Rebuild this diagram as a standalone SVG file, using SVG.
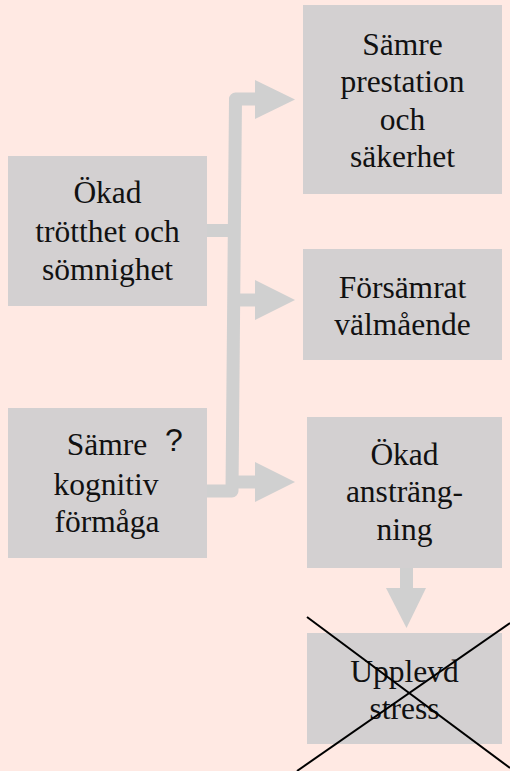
<svg xmlns="http://www.w3.org/2000/svg" width="510" height="771" viewBox="0 0 510 771">
<style>
.bg{fill:#FFE9E3}
.box{fill:#D3D0D1}
.t{font-size:31.5px;fill:#111;text-anchor:middle}
.q{font-size:32px;fill:#111}
.con{fill:none;stroke:#D0D0D0;stroke-width:13;stroke-linejoin:round}
.head{fill:#D0D0D0}
.x{stroke:#000;stroke-width:2}
</style>
<rect class="bg" x="0" y="0" width="510" height="771"/>
<g id="connectors">
<path class="con" d="M207,491 L232,491 L235.5,99 L256,99"/>
<path class="con" d="M207,230.5 L234,230.5"/>
<path class="con" d="M233,300 L256,300"/>
<path class="con" d="M232,482 L256,482"/>
<polygon class="head" points="255,80 295,99.5 255,119"/>
<polygon class="head" points="255,280 295,300 255,320"/>
<polygon class="head" points="255,462 295,482 255,502"/>
<path class="con" d="M406.5,568 L406.5,590"/>
<polygon class="head" points="386,588 426,588 406.5,628"/>
</g>
<g font-family="'Liberation Serif', 'DejaVu Serif', serif">
<g id="n1">
<rect class="box" x="8" y="156" width="199" height="150"/>
<text class="t" x="107.5" y="203">Ökad</text>
<text class="t" x="107.5" y="242">trötthet och</text>
<text class="t" x="107.5" y="280">sömnighet</text>
</g>
<g id="n2">
<rect class="box" x="8" y="408" width="199" height="150"/>
<text class="t" x="107" y="455">Sämre</text>
<text class="q" x="165" y="451" font-family="'Liberation Sans', Arial, sans-serif">?</text>
<text class="t" x="106" y="495">kognitiv</text>
<text class="t" x="107" y="532">förmåga</text>
</g>
<g id="n3">
<rect class="box" x="303" y="5" width="199" height="189"/>
<text class="t" x="402.5" y="55">Sämre</text>
<text class="t" x="402.5" y="92">prestation</text>
<text class="t" x="402.5" y="130">och</text>
<text class="t" x="402.5" y="167">säkerhet</text>
</g>
<g id="n4">
<rect class="box" x="303" y="249" width="199" height="111"/>
<text class="t" x="402.5" y="298">Försämrat</text>
<text class="t" x="402.5" y="335">välmående</text>
</g>
<g id="n5">
<rect class="box" x="307" y="417" width="195" height="151"/>
<text class="t" x="404.5" y="465">Ökad</text>
<text class="t" x="404.5" y="502">ansträng-</text>
<text class="t" x="404.5" y="540">ning</text>
</g>
<g id="n6">
<rect class="box" x="307" y="633" width="195" height="111"/>
<text class="t" x="404.5" y="682">Upplevd</text>
<text class="t" x="404.5" y="719">stress</text>
<line class="x" x1="307" y1="617" x2="510" y2="768"/>
<line class="x" x1="510" y1="623" x2="297" y2="771"/>
</g>
</g>
</svg>
